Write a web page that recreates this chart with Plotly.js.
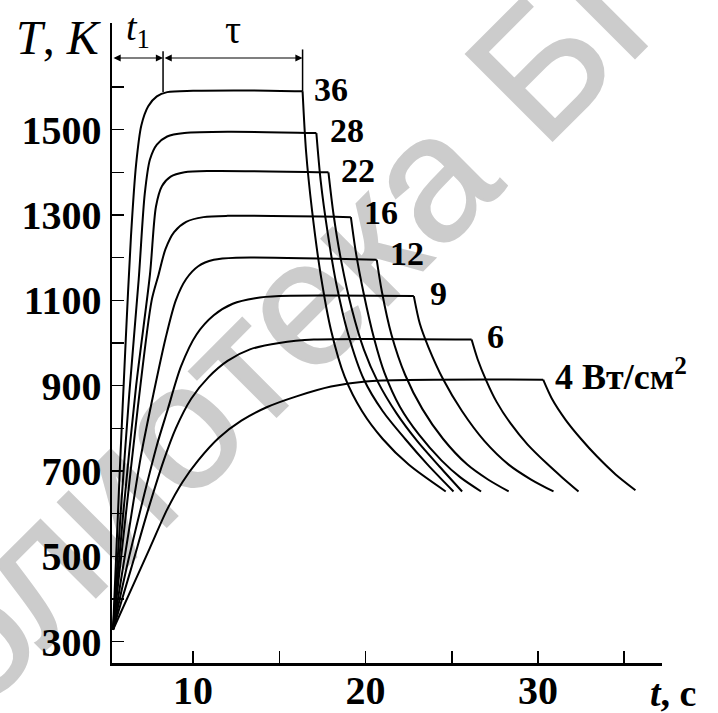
<!DOCTYPE html>
<html><head><meta charset="utf-8">
<script src="https://cdn.plot.ly/plotly-3.0.1.min.js"></script>
<style>
html,body{margin:0;padding:0;background:#fff;overflow:hidden;}
#wm{position:absolute;left:342px;top:265px;transform:translate(-50%,-50%) rotate(-45deg);font-family:'Liberation Sans',Arial,sans-serif;font-size:178px;line-height:1;color:#cccccc;-webkit-text-stroke:2px #cccccc;white-space:nowrap;z-index:0;}
#chart{position:absolute;left:0;top:0;width:718px;height:713px;z-index:1;}
</style></head>
<body>
<div id="wm">Библиотека БГУИР</div>
<div id="chart"></div>
<script>
// power densities, W/cm^2
const powers = [36, 28, 22, 16, 12, 9, 6, 4];

// heating + holding branch (t, s ; T, K)
const heatT36 = [328, 700, 1010, 1250, 1420, 1510, 1555, 1578, 1588, 1591, 1592, 1590];
const heatt36 = [5.36, 5.75, 6.1, 6.4, 6.7, 7.0, 7.4, 7.9, 8.5, 10, 13, 16.35];
const heatT28 = [328, 600, 880, 1150, 1350, 1430, 1465, 1484, 1492, 1495, 1492];
const heatt28 = [5.36, 5.8, 6.3, 6.85, 7.2, 7.5, 7.9, 8.5, 9.5, 12, 17.15];
const heatT22 = [328, 600, 900, 1160, 1320, 1368, 1390, 1400, 1403, 1400];
const heatt22 = [5.36, 5.95, 6.7, 7.5, 7.85, 8.2, 8.7, 9.5, 11, 17.85];
const heatT16 = [328, 560, 850, 1100, 1160, 1220, 1260, 1284, 1295, 1298, 1295];
const heatt16 = [5.36, 6.0, 6.8, 7.6, 8.0, 8.4, 8.9, 9.6, 10.6, 12, 19.15];
const heatT12 = [328, 540, 740, 880, 1010, 1100, 1150, 1180, 1195, 1200, 1195];
const heatt12 = [5.36, 6.2, 7.0, 7.7, 8.4, 9.0, 9.6, 10.3, 11.2, 12.5, 20.65];
const heatT9 = [328, 500, 650, 760, 840, 945, 1020, 1065, 1092, 1105, 1110, 1110];
const heatt9 = [5.36, 6.3, 7.2, 7.9, 8.5, 9.3, 10.2, 11.2, 12.3, 13.6, 15, 22.8];
const heatT6 = [328, 470, 610, 725, 800, 870, 920, 958, 985, 1000, 1008, 1008];
const heatt6 = [5.36, 6.4, 7.4, 8.3, 9.0, 9.9, 10.9, 12.0, 13.3, 15.0, 17, 26.15];
const heatT4 = [328, 430, 520, 610, 675, 725, 778, 818, 850, 875, 898, 910, 914];
const heatt4 = [5.36, 6.5, 7.5, 8.5, 9.4, 10.3, 11.5, 12.8, 14.3, 16, 18, 20, 30.3];

// cooling branch
const coolT36 = [1590, 1450, 1310, 1160, 1030, 920, 840, 775, 715, 652];
const coolt36 = [16.35, 16.55, 16.9, 17.4, 18.0, 18.8, 19.8, 21.0, 22.5, 24.65];
const coolT28 = [1492, 1380, 1260, 1140, 1020, 915, 840, 775, 715, 652];
const coolt28 = [17.15, 17.4, 17.8, 18.3, 19.0, 19.9, 21.0, 22.3, 23.6, 25.1];
const coolT22 = [1400, 1300, 1190, 1080, 985, 910, 835, 770, 710, 652];
const coolt22 = [17.85, 18.15, 18.6, 19.2, 19.9, 20.7, 21.8, 23.0, 24.3, 25.6];
const coolT16 = [1295, 1210, 1115, 1010, 930, 850, 785, 725, 685, 652];
const coolt16 = [19.15, 19.45, 19.9, 20.5, 21.1, 22.0, 23.1, 24.4, 25.5, 26.7];
const coolT12 = [1195, 1120, 1020, 925, 845, 775, 715, 680, 652];
const coolt12 = [20.65, 20.95, 21.5, 22.3, 23.3, 24.5, 25.9, 27.1, 28.3];
const coolT9 = [1110, 1045, 990, 915, 840, 770, 715, 680, 652];
const coolt9 = [22.8, 23.15, 23.65, 24.5, 25.6, 26.9, 28.3, 29.6, 30.9];
const coolT6 = [1008, 962, 912, 862, 812, 762, 718, 685, 652];
const coolt6 = [26.15, 26.5, 27.0, 27.6, 28.4, 29.4, 30.5, 31.4, 32.35];
const coolT4 = [914, 870, 820, 775, 735, 692, 655];
const coolt4 = [30.3, 30.8, 31.6, 32.5, 33.4, 34.5, 35.65];

// time marks
const tStart = 5.3, t1End = 8.26, tauEnd = 16.35, Tmark = 1668;

const xTicks = [10, 15, 20, 25, 30, 35];
const xTickText = ['10', '', '20', '', '30', ''];
const yTicks = [300, 400, 500, 600, 700, 800, 900, 1000, 1100, 1200, 1300, 1400, 1500, 1600];
const yTickText = ['300', '', '500', '', '700', '', '900', '', '1100', '', '1300', '', '1500', ''];

const heat = {36:[heatt36,heatT36],28:[heatt28,heatT28],22:[heatt22,heatT22],16:[heatt16,heatT16],12:[heatt12,heatT12],9:[heatt9,heatT9],6:[heatt6,heatT6],4:[heatt4,heatT4]};
const cool = {36:[coolt36,coolT36],28:[coolt28,coolT28],22:[coolt22,coolT22],16:[coolt16,coolT16],12:[coolt12,coolT12],9:[coolt9,coolT9],6:[coolt6,coolT6],4:[coolt4,coolT4]};

const traces = [];
powers.forEach(p => {
  [heat[p], cool[p]].forEach(b => {
    traces.push({x: b[0], y: b[1], type: 'scatter', mode: 'lines', name: p + ' Вт/см²',
      line: {color: '#000', width: 2, shape: 'spline', smoothing: 0.8}, hoverinfo: 'x+y', showlegend: false});
  });
});

const serifB = {family: 'Liberation Serif, Times New Roman, serif', size: 34, color: '#000', weight: 'bold'};
const labelPos = {36:[16.9,1594], 28:[17.83,1498], 22:[18.46,1404], 16:[19.8,1305], 12:[21.3,1209], 9:[23.6,1116], 6:[26.9,1015], 4:[30.87,926]};
const annotations = powers.map(p => ({
  x: labelPos[p][0], y: labelPos[p][1], xref: 'x', yref: 'y', xanchor: 'left', yanchor: 'middle',
  text: p === 4 ? '4 Вт/см<sup>2</sup>' : String(p), showarrow: false,
  font: p === 4 ? Object.assign({}, serifB, {size: 36}) : serifB
}));
annotations.push(
  {x: 5.3, y: 1750, xref: 'x', yref: 'y', xanchor: 'right', yanchor: 'middle', xshift: -8, yshift: -14,
   text: '<i>T</i>, <i>K</i>', showarrow: false, font: {family: 'Liberation Serif, serif', size: 48, color: '#000'}},
  {x: 37.19, y: 250, xref: 'x', yref: 'y', xanchor: 'left', yanchor: 'top', xshift: -14, yshift: -7,
   text: '<b><i>t</i>, c</b>', showarrow: false, font: {family: 'Liberation Serif, serif', size: 38, color: '#000'}},
  {x: (tStart + t1End) / 2, y: Tmark, xref: 'x', yref: 'y', yanchor: 'bottom', yshift: 2,
   text: '<i>t</i><sub>1</sub>', showarrow: false, font: {family: 'Liberation Serif, serif', size: 38, color: '#000'}},
  {x: (t1End + tauEnd) / 2, y: Tmark, xref: 'x', yref: 'y', yanchor: 'bottom', yshift: 4,
   text: 'τ', showarrow: false, font: {family: 'Liberation Serif, serif', size: 40, color: '#000'}},
  {x: t1End, y: Tmark, ax: tStart, ay: Tmark, xref: 'x', yref: 'y', axref: 'x', ayref: 'y', text: '',
   showarrow: true, arrowside: 'end+start', arrowhead: 2, arrowsize: 1.2, arrowwidth: 1.2, arrowcolor: '#000'},
  {x: tauEnd, y: Tmark, ax: t1End, ay: Tmark, xref: 'x', yref: 'y', axref: 'x', ayref: 'y', text: '',
   showarrow: true, arrowside: 'end+start', arrowhead: 2, arrowsize: 1.2, arrowwidth: 1.2, arrowcolor: '#000'}
);

const shapes = [
  {type: 'line', xref: 'x', yref: 'y', x0: t1End, x1: t1End, y0: 1588, y1: 1684, line: {color: '#000', width: 1.5}},
  {type: 'line', xref: 'x', yref: 'y', x0: tauEnd, x1: tauEnd, y0: 1590, y1: 1688, line: {color: '#000', width: 1.5}}
];

const tickFont = {family: 'Liberation Serif, Times New Roman, serif', size: 40, color: '#000', weight: 'bold'};
const layout = {
  width: 718, height: 713,
  margin: {l: 112, r: 56, t: 23, b: 50, pad: 0},
  paper_bgcolor: 'rgba(0,0,0,0)', plot_bgcolor: 'rgba(0,0,0,0)',
  showlegend: false,
  xaxis: {range: [5.3, 37.19], showline: true, linecolor: '#000', linewidth: 2.5, ticks: 'inside', ticklen: 12, tickwidth: 1.5, tickcolor: '#000',
    tickvals: xTicks, ticktext: xTickText, tickfont: tickFont, ticklabelstandoff: -10, showgrid: false, zeroline: false, fixedrange: true},
  yaxis: {range: [250, 1750], showline: true, linecolor: '#000', linewidth: 2.5, ticks: 'inside', ticklen: 12, tickwidth: 1.5, tickcolor: '#000',
    tickvals: yTicks, ticktext: yTickText, tickfont: tickFont, showgrid: false, zeroline: false, fixedrange: true},
  annotations: annotations, shapes: shapes
};
Plotly.newPlot('chart', traces, layout, {displayModeBar: false, staticPlot: true});
</script>
</body></html>
